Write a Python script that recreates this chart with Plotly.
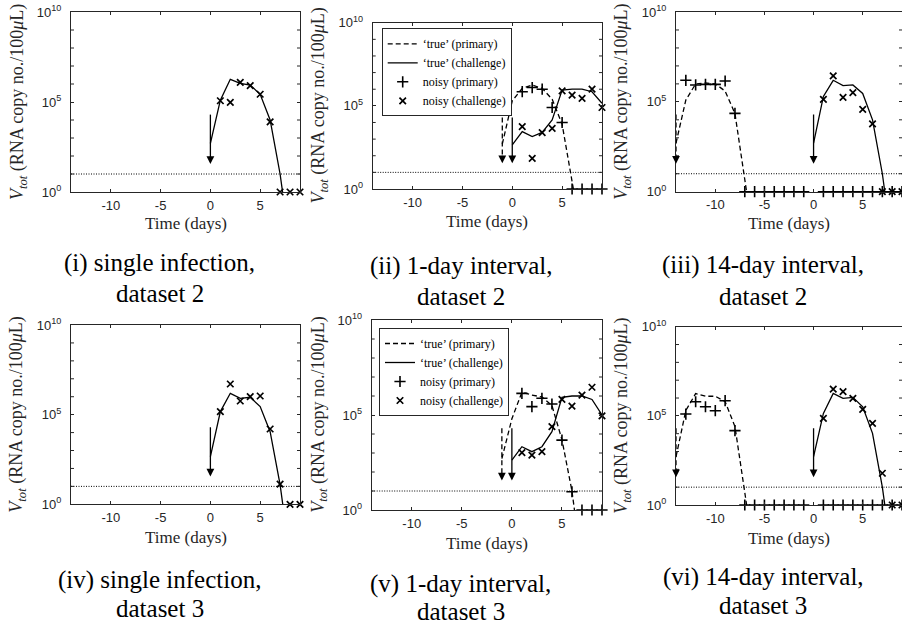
import plotly.graph_objects as go

# ---------------- data: log10 of V_tot (RNA copy no./100 uL) ----------------
x_range = [-14, 9]
x_ticks = [-10, -5, 0, 5]
x_tick_labels = ["-10", "-5", "0", "5"]
y_decades = [0, 1, 2, 3, 4, 5, 6, 7, 8, 9, 10]
y_labelled = [0, 5, 10]
detection_limit = 10.0
arrow_top_exp = 4.3
arrow_tip_exp = 1.55

days_true_challenge = [0, 1, 2, 3, 4, 5, 6, 7, 8, 9]
days_noisy_challenge = [1, 2, 3, 4, 5, 6, 7, 8, 9]
days_true_primary_1d = [-1, 0, 1, 2, 3, 4, 5, 6, 7, 8, 9]
days_noisy_primary_1d = [1, 2, 3, 4, 5, 6, 7, 8, 9]
days_true_primary_14d = [-14, -13, -12, -11, -10, -9, -8, -7, -6, -5]
days_noisy_primary_14d = [-13, -12, -11, -10, -9, -8, -7, -6, -5, -4, -3, -2, -1,
                          1, 2, 3, 4, 5, 6, 7, 8, 9]

# (i) single infection, dataset 2
p1_true_challenge = [2.7, 5.1, 6.26, 6.04, 5.94, 5.43, 4.0, 1.0, -3, -3]
p1_noisy_challenge = [5.07, 4.98, 6.09, 5.91, 5.43, 3.9, 0, 0, 0]
# (ii) 1-day interval, dataset 2
p2_true_primary = [2.7, 5.3, 6.05, 6.25, 6.05, 5.4, 3.9, 0.3, -3, -3, -3]
p2_true_challenge = [2.65, 3.45, 3.15, 3.4, 4.15, 5.95, 6.0, 6.0, 5.85, 5.15]
p2_noisy_primary = [5.85, 6.1, 6.0, 4.9, 4.0, 0, 0, 0, 0]
p2_noisy_challenge = [3.75, 1.84, 3.39, 3.65, 5.9, 5.65, 5.45, 6.0, 4.9]
# (iii) 14-day interval, dataset 2
p3_true_primary = [2.7, 5.1, 6.0, 6.05, 6.0, 5.6, 4.35, 0.8, -3, -3]
p3_true_challenge = [2.7, 5.3, 6.2, 5.9, 5.94, 5.47, 4.0, 1.0, -3, -3]
p3_noisy_primary = [6.2, 5.94, 5.97, 5.97, 6.16, 4.36, 0, 0, 0, 0, 0, 0, 0,
                    0, 0, 0, 0, 0, 0, 0, 0, 0]
p3_noisy_challenge = [5.14, 6.44, 5.25, 5.51, 4.58, 3.77, 0, 0, 0]
# (iv) single infection, dataset 3
p4_true_challenge = [2.66, 5.17, 6.19, 5.91, 5.97, 5.45, 4.05, 1.1, -3, -3]
p4_noisy_challenge = [5.17, 6.71, 5.76, 6.0, 6.04, 4.2, 1.13, 0, 0]
# (v) 1-day interval, dataset 3
p5_true_primary = [2.7, 4.8, 6.2, 6.05, 5.95, 5.5, 3.7, 1.0, -3, -3, -3]
p5_true_challenge = [2.63, 3.33, 3.07, 3.33, 4.12, 5.93, 6.0, 6.0, 5.82, 5.0]
p5_noisy_primary = [6.14, 5.44, 5.88, 5.58, 3.68, 0.96, 0, 0, 0]
p5_noisy_challenge = [3.02, 2.89, 3.07, 4.39, 5.82, 5.47, 6.05, 6.46, 4.95]
# (vi) 14-day interval, dataset 3
p6_true_primary = [2.7, 5.3, 6.25, 6.1, 6.1, 5.8, 4.4, 0.9, -3, -3]
p6_true_challenge = [2.71, 5.14, 6.26, 5.98, 6.04, 5.51, 4.02, 1.0, -3, -3]
p6_noisy_primary = [5.1, 5.79, 5.51, 5.29, 5.85, 4.17, 0, 0, 0, 0, 0, 0, 0,
                    0, 0, 0, 0, 0, 0, 0, 0, 0]
p6_noisy_challenge = [4.86, 6.5, 6.36, 5.98, 5.36, 4.58, 1.78, 0, 0]

captions = [
    ("(i) single infection,", "dataset 2"),
    ("(ii) 1-day interval,", "dataset 2"),
    ("(iii) 14-day interval,", "dataset 2"),
    ("(iv) single infection,", "dataset 3"),
    ("(v) 1-day interval,", "dataset 3"),
    ("(vi) 14-day interval,", "dataset 3"),
]
legend_names = ["\u2018true\u2019 (primary)", "\u2018true\u2019 (challenge)",
                "noisy (primary)", "noisy (challenge)"]
x_title = "Time (days)"
y_title = "<i>V</i><sub><i>tot</i></sub> (RNA copy no./100<i>\u03bc</i>L)"

panels = [
    dict(tp=None, tpd=None, tc=p1_true_challenge, np_=None, npd=None,
         nc=p1_noisy_challenge, arrows=[(0, "solid")], legend=None),
    dict(tp=p2_true_primary, tpd=days_true_primary_1d, tc=p2_true_challenge,
         np_=p2_noisy_primary, npd=days_noisy_primary_1d, nc=p2_noisy_challenge,
         arrows=[(-1, "dash"), (0, "solid")], legend="legend"),
    dict(tp=p3_true_primary, tpd=days_true_primary_14d, tc=p3_true_challenge,
         np_=p3_noisy_primary, npd=days_noisy_primary_14d, nc=p3_noisy_challenge,
         arrows=[(-14, "dash"), (0, "solid")], legend=None),
    dict(tp=None, tpd=None, tc=p4_true_challenge, np_=None, npd=None,
         nc=p4_noisy_challenge, arrows=[(0, "solid")], legend=None),
    dict(tp=p5_true_primary, tpd=days_true_primary_1d, tc=p5_true_challenge,
         np_=p5_noisy_primary, npd=days_noisy_primary_1d, nc=p5_noisy_challenge,
         arrows=[(-1, "dash"), (0, "solid")], legend="legend2"),
    dict(tp=p6_true_primary, tpd=days_true_primary_14d, tc=p6_true_challenge,
         np_=p6_noisy_primary, npd=days_noisy_primary_14d, nc=p6_noisy_challenge,
         arrows=[(-14, "dash"), (0, "solid")], legend=None),
]

# ---------------- layout geometry (pixels) ----------------
W, H = 902, 625
boxes = [  # left, right, top, bottom
    (71, 300, 12, 192),
    (372.7, 602, 22.7, 189),
    (676, 902, 12, 191.7),
    (71, 300, 325, 504.3),
    (371.7, 602, 320, 510),
    (676, 902, 326.7, 505),
]
xtitle_y = [223, 222, 223, 537, 543, 538]
caption_y = [(263, 293), (266, 296), (265, 296), (580, 608), (584, 611), (577, 605)]

INK = "#262626"
SERIF = "Liberation Serif, DejaVu Serif, serif"
SANS = "Liberation Sans, Arial, sans-serif"
DASH = "5px,3px"
TICK = 3

fig = go.Figure()
layout = dict(width=W, height=H, margin=dict(l=0, r=0, t=0, b=0, autoexpand=False),
              paper_bgcolor="white", plot_bgcolor="white",
              showlegend=True, annotations=[], shapes=[])


def e10(vals):
    return [10 ** v for v in vals]


for i, (p, box) in enumerate(zip(panels, boxes)):
    k = "" if i == 0 else str(i + 1)
    xa, ya = "x" + k, "y" + k
    l, r, t, b = box
    layout["xaxis" + k] = dict(
        domain=[l / W, min(r / W, 1.0)], anchor=ya, range=x_range,
        tickvals=x_ticks, ticktext=x_tick_labels, ticks="inside", ticklen=TICK,
        tickcolor=INK, showline=True, linecolor=INK, linewidth=1, mirror="allticks",
        showgrid=False, zeroline=False, ticklabelstandoff=1,
        tickfont=dict(family=SANS, size=13, color=INK))
    layout["yaxis" + k] = dict(
        domain=[1 - b / H, 1 - t / H], anchor=xa, type="log",
        range=[0, 10], tickvals=[10 ** d for d in y_labelled],
        ticktext=["10<sup>%d</sup>" % d for d in y_labelled],
        ticks="inside", ticklen=TICK, tickcolor=INK,
        showline=True, linecolor=INK, linewidth=1, mirror="allticks",
        showgrid=False, zeroline=False, ticklabelstandoff=6,
        tickfont=dict(family=SANS, size=13, color=INK))
    # unlabelled decade ticks, inside, on both sides (data values on the log axis)
    for d in y_decades:
        if d in y_labelled:
            continue
        for anchor_side, x0, x1 in ((0, 0, TICK), (1, -TICK, 0)):
            layout["shapes"].append(dict(
                type="line", xref=xa + " domain", yref=ya, xsizemode="pixel",
                xanchor=anchor_side, x0=x0, x1=x1, y0=10 ** d, y1=10 ** d,
                line=dict(color=INK, width=1), layer="above"))

    lg = p["legend"]
    common = dict(xaxis=xa, yaxis=ya)
    # detection limit
    fig.add_trace(go.Scatter(x=x_range, y=[detection_limit, detection_limit],
                             mode="lines", line=dict(color="black", width=1, dash="1px,1.5px"),
                             showlegend=False, hoverinfo="skip", **common))
    # arrows (shafts + heads)
    for ax_day, style in p["arrows"]:
        fig.add_trace(go.Scatter(x=[ax_day, ax_day],
                                 y=[10 ** arrow_top_exp, 10 ** (arrow_tip_exp + 0.3)],
                                 mode="lines",
                                 line=dict(color="black", width=1.3,
                                           dash=DASH if style == "dash" else "solid"),
                                 showlegend=False, hoverinfo="skip", **common))
        layout["annotations"].append(dict(
            x=ax_day, y=arrow_tip_exp, xref=xa, yref=ya, text="", showarrow=True,
            ax=0, ay=-9, arrowhead=2, arrowsize=1.2, arrowwidth=1.3,
            arrowcolor="black"))
    # true primary
    if p["tp"] is not None:
        fig.add_trace(go.Scatter(x=p["tpd"], y=e10(p["tp"]), mode="lines",
                                 line=dict(color="black", width=1.3, dash=DASH),
                                 name=legend_names[0], showlegend=lg is not None,
                                 legend=lg or "legend", **common))
    # true challenge
    fig.add_trace(go.Scatter(x=days_true_challenge, y=e10(p["tc"]), mode="lines",
                             line=dict(color="black", width=1.3),
                             name=legend_names[1], showlegend=lg is not None,
                             legend=lg or "legend", **common))
    # noisy primary
    if p["np_"] is not None:
        fig.add_trace(go.Scatter(x=p["npd"], y=e10(p["np_"]), mode="markers",
                                 marker=dict(symbol="cross-thin", size=8, color="black",
                                             line=dict(color="black", width=1.6)),
                                 cliponaxis=False,
                                 name=legend_names[2], showlegend=lg is not None,
                                 legend=lg or "legend", **common))
    # noisy challenge
    fig.add_trace(go.Scatter(x=days_noisy_challenge, y=e10(p["nc"]), mode="markers",
                             marker=dict(symbol="x-thin", size=6.5, color="black",
                                         line=dict(color="black", width=1.7)),
                             cliponaxis=False,
                             name=legend_names[3], showlegend=lg is not None,
                             legend=lg or "legend", **common))

    # texts
    layout["annotations"].append(dict(
        x=(l - 53) / W, y=1 - (t + b) / 2 / H, xref="paper", yref="paper",
        text=y_title, textangle=-90, showarrow=False, xanchor="center", yanchor="middle",
        font=dict(family=SERIF, size=18, color=INK)))
    layout["annotations"].append(dict(
        x=(l + r) / 2 / W, y=1 - xtitle_y[i] / H, xref="paper", yref="paper",
        text=x_title, showarrow=False, xanchor="center", yanchor="middle",
        font=dict(family=SERIF, size=17, color=INK)))
    for line_text, ly in zip(captions[i], caption_y[i]):
        layout["annotations"].append(dict(
            x=((l - 52) + r) / 2 / W, y=1 - ly / H, xref="paper", yref="paper",
            text=line_text, showarrow=False, xanchor="center", yanchor="middle",
            font=dict(family=SERIF, size=25, color="black")))

legend_style = dict(xanchor="left", yanchor="top", bgcolor="white", bordercolor=INK,
                    borderwidth=1, font=dict(family=SERIF, size=12, color="black"),
                    tracegroupgap=0, itemwidth=30)
layout["legend"] = dict(x=381.7 / W, y=1 - 28.3 / H, **legend_style)
layout["legend2"] = dict(x=379 / W, y=1 - 328 / H, **legend_style)

fig.update_layout(**layout)
fig.write_html("out.html",
               config={"displayModeBar": False},
               post_script="document.body.style.margin='0px';"
                           "document.body.style.overflow='hidden';")
